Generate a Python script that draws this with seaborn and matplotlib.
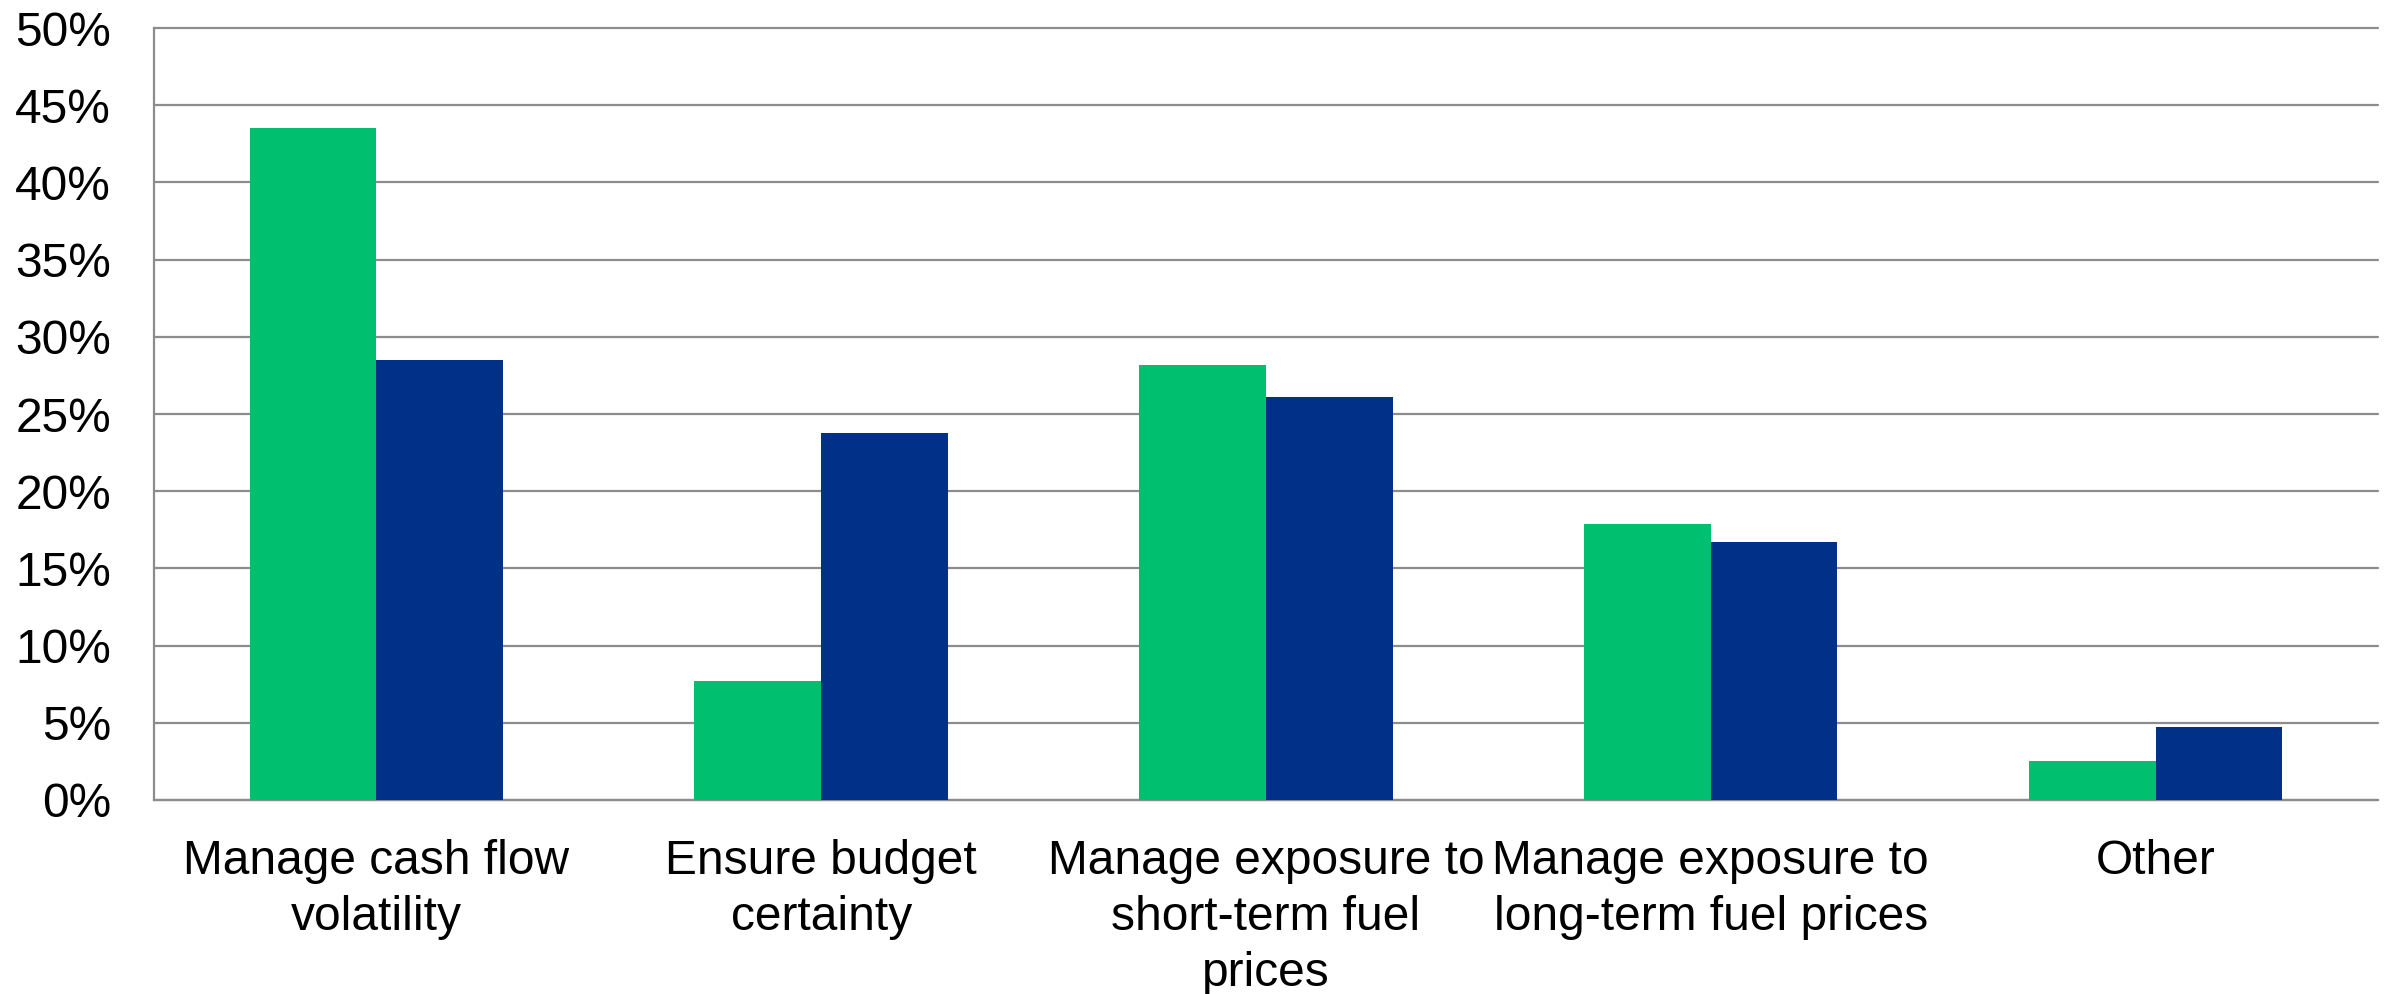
import matplotlib
matplotlib.use("Agg")
import matplotlib.pyplot as plt
import matplotlib.ticker as mtick
import seaborn as sns
import pandas as pd
import numpy as np

# chart data
categories = ['Manage cash flow\nvolatility',
              'Ensure budget\ncertainty',
              'Manage exposure to\nshort-term fuel\nprices',
              'Manage exposure to\nlong-term fuel prices',
              'Other']
series_names = ['Series 1', 'Series 2']
series_1 = [0.435, 0.077, 0.282, 0.179, 0.025]
series_2 = [0.285, 0.238, 0.261, 0.167, 0.047]
colors = ['#00BF6F', '#003087']

df = pd.DataFrame({
    'category': categories * 2,
    'series': [series_names[0]] * len(categories) + [series_names[1]] * len(categories),
    'value': series_1 + series_2,
})

sns.set_style("white")
plt.rcParams['font.family'] = ['Liberation Sans', 'DejaVu Sans']

fig, ax = plt.subplots(figsize=(23.92, 9.94), dpi=100)
fig.subplots_adjust(left=0.0644, right=0.9941, top=0.9718, bottom=0.1952)

sns.barplot(data=df, x='category', y='value', hue='series',
            palette=colors, width=0.57, saturation=1,
            legend=False, ax=ax, linewidth=0, zorder=3)

grid_col = '#8C8C8C'
fs = 34.5
ax.set_ylim(0, 0.5)
ax.set_xlim(-0.5, len(categories) - 0.5)
ax.yaxis.set_major_locator(mtick.MultipleLocator(0.05))
ax.yaxis.set_major_formatter(mtick.PercentFormatter(xmax=1.0, decimals=0))
ax.yaxis.grid(True, color=grid_col, linewidth=1.6, zorder=0)
ax.set_axisbelow(True)
for line in ax.get_ygridlines():
    line.set_clip_on(False)

# category boundary ticks on the x axis
ax.set_xticks(np.arange(len(categories)))
ax.set_xticklabels(categories, fontsize=fs, linespacing=1.32, color='black')
ax.set_xticks(np.arange(len(categories) + 1) - 0.5, minor=True)
ax.tick_params(axis='x', which='major', length=0, pad=28)
ax.tick_params(axis='x', which='minor', length=10, width=1.6, color=grid_col, direction='out')
ax.tick_params(axis='y', length=10, width=1.6, color=grid_col, direction='out',
               labelsize=fs, labelcolor='black', pad=21)

for side in ['top', 'right']:
    ax.spines[side].set_visible(False)
for side in ['left', 'bottom']:
    ax.spines[side].set_color(grid_col)
    ax.spines[side].set_linewidth(1.6)

ax.set_xlabel('')
ax.set_ylabel('')

fig.savefig("out.png", dpi=100)
